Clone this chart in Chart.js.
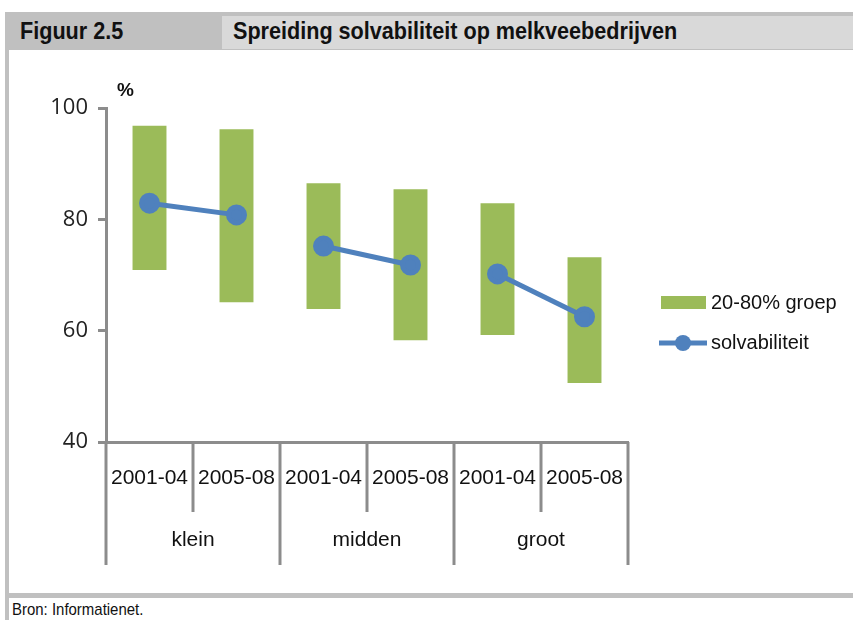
<!DOCTYPE html>
<html>
<head>
<meta charset="utf-8">
<script src="https://cdn.jsdelivr.net/npm/chart.js@4/dist/chart.umd.min.js"></script>
<style>
  body { margin: 0; width: 853px; height: 620px; background: #fff; position: relative; overflow: hidden;
         font-family: "Liberation Sans", Arial, sans-serif; }
  .band { position: absolute; left: 5px; top: 12px; width: 848px; height: 38px; background: #c0c0c0; }
  .titlebox { position: absolute; left: 222px; top: 16px; width: 631px; height: 33px; background: #d9d9d9; }
  .fig, .title { position: absolute; top: 17px; font-size: 24px; font-weight: bold; color: #111;
                 transform: scaleX(0.9); transform-origin: left center; white-space: nowrap; }
  .fig { left: 20px; }
  .title { left: 233px; }
  .leftline { position: absolute; left: 5px; top: 50px; width: 4px; height: 570px; background: #c0c0c0; }
  .bottomline { position: absolute; left: 5px; top: 593px; width: 848px; height: 5px; background: #c0c0c0; }
  .source { position: absolute; left: 12px; top: 600px; font-size: 17px; color: #111;
            transform: scaleX(0.88); transform-origin: left center; white-space: nowrap; }
  .unit { position: absolute; left: 117px; top: 79px; font-size: 19px; font-weight: bold; color: #111; }
  #wrap { position: absolute; left: 8px; top: 50px; width: 845px; height: 543px; }
</style>
</head>
<body>
<div class="band"></div>
<div class="titlebox"></div>
<div class="fig">Figuur 2.5</div>
<div class="title">Spreiding solvabiliteit op melkveebedrijven</div>
<div class="leftline"></div>
<div class="bottomline"></div>
<div class="source">Bron: Informatienet.</div>
<div id="wrap"><canvas id="chart" width="845" height="543"></canvas></div>
<div class="unit">%</div>
<script>
// categories
const periods = ["2001-04", "2005-08", "2001-04", "2005-08", "2001-04", "2005-08"];
const groups = ["klein", "midden", "groot"];
// 20-80% band
const low = [70.9, 65.1, 63.9, 58.3, 59.2, 50.6];
const high = [96.8, 96.2, 86.5, 85.4, 82.9, 73.2];
// solvabiliteit (only within each group)
const solvKlein = [82.9, 80.8, null, null, null, null];
const solvMidden = [null, null, 75.2, 71.8, null, null];
const solvGroot = [null, null, null, null, 70.2, 62.5];
const yTicks = [40, 60, 80, 100];

const green = "#9bbb59";
const blue = "#4f81bd";
const axisGrey = "#8c8c8c";
const labelFont = '"Liberation Sans", Arial, sans-serif';

const lineStyle = {
  type: "line", borderColor: blue, backgroundColor: blue, borderWidth: 5,
  pointRadius: 8, pointHoverRadius: 8, spanGaps: false
};

// category labels, group labels, separators and legend
const axisLabels = {
  id: "axisLabels",
  afterDraw(chart) {
    const ctx = chart.ctx;
    const x = chart.scales.x;
    const bottom = chart.chartArea.bottom;
    const step = x.getPixelForValue(1) - x.getPixelForValue(0);
    ctx.save();
    ctx.strokeStyle = axisGrey;
    ctx.lineWidth = 3;
    for (let i = 0; i <= periods.length; i++) {
      const px = x.getPixelForValue(i) - step / 2;
      const isGroup = i % 2 === 0;
      ctx.beginPath();
      ctx.moveTo(px, bottom);
      ctx.lineTo(px, bottom + (isGroup ? 123 : 70));
      ctx.stroke();
    }
    ctx.fillStyle = "#111";
    ctx.textAlign = "center";
    ctx.textBaseline = "middle";
    ctx.font = "21px " + labelFont;
    periods.forEach((p, i) => ctx.fillText(p, x.getPixelForValue(i), bottom + 36));
    groups.forEach((g, j) => {
      const px = (x.getPixelForValue(j * 2) + x.getPixelForValue(j * 2 + 1)) / 2;
      ctx.fillText(g, px, bottom + 98);
    });

    // legend
    ctx.font = "20px " + labelFont;
    const lx = 653, ly = 246;
    ctx.fillStyle = green;
    ctx.fillRect(lx, ly, 45, 13);
    ctx.fillStyle = "#111";
    ctx.textAlign = "left";
    ctx.fillText(chart.data.datasets[0].label, lx + 50, ly + 7);
    const ly2 = ly + 47;
    ctx.strokeStyle = blue;
    ctx.lineWidth = 5;
    ctx.beginPath();
    ctx.moveTo(lx - 2, ly2);
    ctx.lineTo(lx + 46, ly2);
    ctx.stroke();
    ctx.fillStyle = blue;
    ctx.beginPath();
    ctx.arc(lx + 22, ly2, 8, 0, Math.PI * 2);
    ctx.fill();
    ctx.fillStyle = "#111";
    ctx.fillText(chart.data.datasets[1].label, lx + 50, ly2);
    ctx.restore();
  }
};

new Chart(document.getElementById("chart"), {
  data: {
    labels: periods,
    datasets: [
      {
        type: "bar", label: "20-80% groep",
        data: low.map((l, i) => [l, high[i]]),
        backgroundColor: green, borderSkipped: false,
        barPercentage: 0.39, categoryPercentage: 1, order: 2
      },
      Object.assign({ label: "solvabiliteit", data: solvKlein, order: 1 }, lineStyle),
      Object.assign({ label: "solvabiliteit", data: solvMidden, order: 1 }, lineStyle),
      Object.assign({ label: "solvabiliteit", data: solvGroot, order: 1 }, lineStyle)
    ]
  },
  options: {
    responsive: false,
    animation: false,
    layout: { padding: { top: 58, bottom: 151, left: 0, right: 225 } },
    plugins: { legend: { display: false }, tooltip: { enabled: false } },
    scales: {
      x: {
        offset: true,
        ticks: { display: false },
        grid: { display: false },
        border: { color: axisGrey, width: 3 },
        afterFit(scale) { scale.height = 0; }
      },
      y: {
        min: 40, max: 100,
        afterBuildTicks(scale) { scale.ticks = yTicks.map(v => ({ value: v })); },
        ticks: {
          color: "#222", padding: 10,
          font: { family: '"Open Sans", "Noto Sans", sans-serif', size: 22 }
        },
        grid: { drawOnChartArea: false, color: axisGrey, lineWidth: 3, tickLength: 8 },
        border: { color: axisGrey, width: 3 },
        afterFit(scale) { scale.width = 98; }
      }
    }
  },
  plugins: [axisLabels]
});
</script>
</body>
</html>
